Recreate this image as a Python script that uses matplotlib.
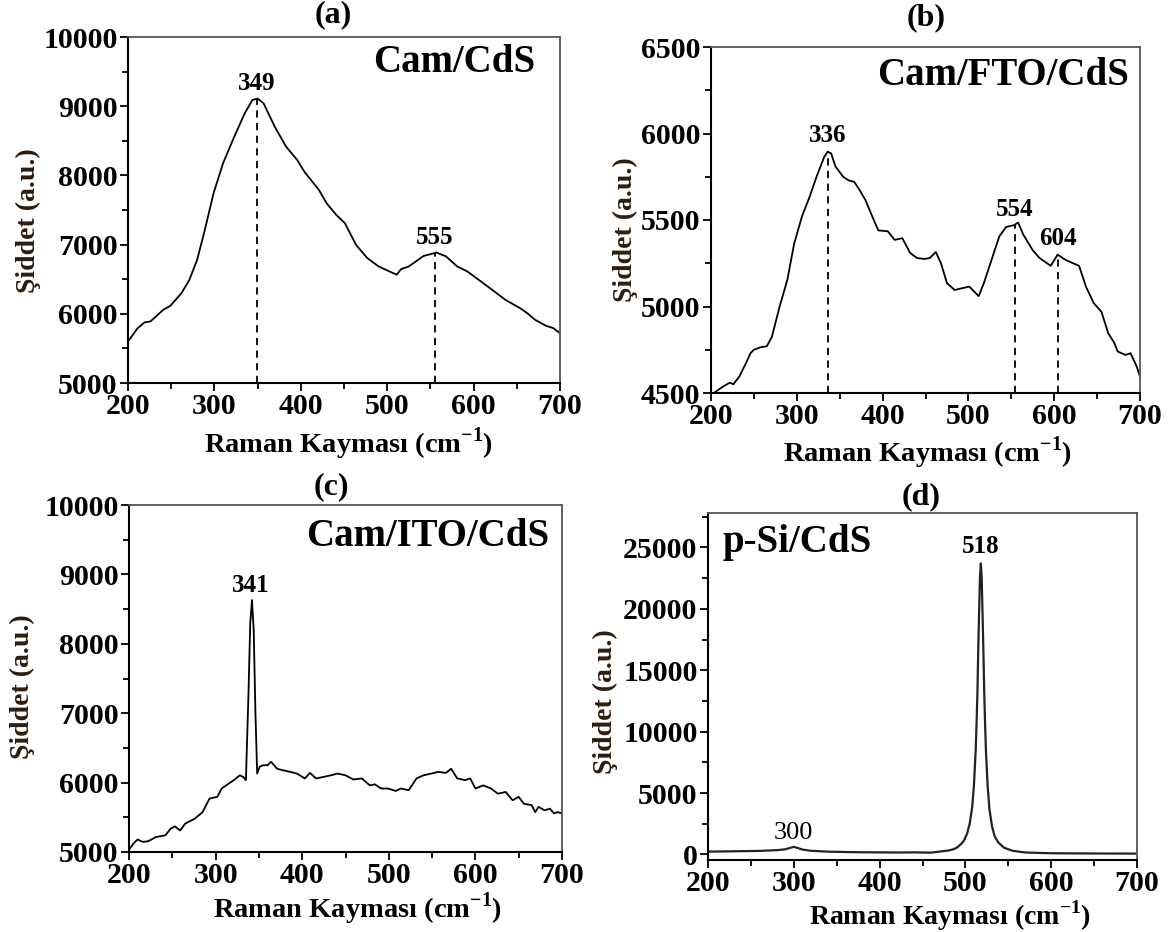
import numpy as np
import matplotlib.pyplot as plt
from matplotlib.ticker import MultipleLocator

plt.rcParams['font.family'] = ['Liberation Serif', 'DejaVu Serif']
plt.rcParams['font.weight'] = 'bold'
plt.rcParams['mathtext.fontset'] = 'custom'
plt.rcParams['mathtext.rm'] = 'Liberation Serif'
plt.rcParams['mathtext.bf'] = 'Liberation Serif:bold'

# ---------------- data ----------------
# (a) Cam/CdS
xa = [200, 211, 219, 226, 241, 249, 262, 271, 280, 288, 299, 310, 323, 335, 344, 350,
      357, 370, 383, 396, 404, 421, 430, 441, 451, 464, 477, 490, 503, 511, 516, 525,
      533, 542, 557, 568, 581, 593, 606, 619, 637, 654, 662, 671, 684, 692, 700]
ya = [5600, 5790, 5875, 5890, 6060, 6115, 6300, 6490, 6780, 7165, 7740, 8175, 8560, 8895, 9090, 9110,
      9040, 8700, 8415, 8220, 8055, 7790, 7595, 7430, 7310, 6995, 6805, 6685, 6610, 6565, 6645, 6685,
      6755, 6835, 6885, 6830, 6685, 6610, 6490, 6370, 6200, 6080, 6010, 5915, 5825, 5795, 5720]
peaks_a = [349, 555]

# (b) Cam/FTO/CdS
xb = [202, 209, 215, 222, 226, 233, 241, 246, 250, 258, 265, 271, 280, 289, 297, 306,
      315, 323, 332, 336, 340, 345, 354, 360, 367, 373, 380, 388, 395, 406, 414, 423,
      432, 440, 449, 455, 462, 468, 475, 484, 492, 501, 507, 512, 518, 527, 536, 544,
      553, 558, 564, 575, 583, 596, 604, 613, 622, 629, 637, 646, 655, 663, 670, 674,
      683, 689, 696, 700]
yb = [4495, 4520, 4540, 4560, 4550, 4595, 4675, 4730, 4750, 4765, 4770, 4825, 5000, 5155, 5365, 5520,
      5635, 5750, 5865, 5895, 5885, 5810, 5750, 5730, 5720, 5675, 5615, 5520, 5440, 5435, 5385, 5395,
      5310, 5280, 5275, 5280, 5315, 5250, 5135, 5095, 5105, 5115, 5085, 5060, 5135, 5270, 5405, 5460,
      5470, 5485, 5415, 5325, 5280, 5235, 5300, 5270, 5250, 5235, 5115, 5020, 4970, 4845, 4790, 4740,
      4720, 4730, 4655, 4595]
peaks_b = [336, 554, 604]

# (c) Cam/ITO/CdS
xc = [201, 205, 210, 216, 222, 231, 242, 248, 253, 259, 265, 276, 285, 293, 302, 307,
      315, 321, 328, 332, 335, 338, 340, 342, 344, 346, 348, 351, 355, 360, 364, 371, 377,
      386, 394, 403, 409, 416, 424, 433, 441, 450, 459, 469, 478, 484, 491, 499, 508,
      514, 523, 532, 540, 549, 557, 566, 572, 579, 588, 594, 600, 609, 618, 626, 635,
      643, 650, 656, 665, 669, 673, 680, 686, 691, 695, 700]
yc = [5050, 5120, 5180, 5145, 5155, 5215, 5240, 5335, 5370, 5310, 5410, 5480, 5575, 5770, 5795, 5915,
      5985, 6035, 6105, 6080, 6035, 7300, 8300, 8630, 8200, 7000, 6130, 6230, 6250, 6250, 6300, 6200, 6180,
      6155, 6130, 6060, 6140, 6060, 6080, 6105, 6130, 6105, 6045, 6060, 5960, 5975, 5915, 5915, 5880,
      5915, 5890, 6060, 6105, 6130, 6155, 6140, 6200, 6060, 6035, 6060, 5915, 5960, 5915, 5840, 5865,
      5745, 5795, 5695, 5675, 5575, 5650, 5600, 5625, 5555, 5575, 5555]
peaks_c = [341]

# (d) p-Si/CdS
xd = [200, 220, 240, 260, 280, 290, 295, 300, 305, 310, 320, 340, 360, 380, 400, 420,
      440, 460, 480, 485, 490, 495, 498, 502, 505, 508, 510, 512, 513, 514, 515, 516,
      517, 518, 519, 520, 521, 522, 523, 524, 526, 528, 531, 534, 538, 545, 555, 570,
      600, 650, 700]
yd = [230, 250, 270, 290, 350, 420, 520, 620, 520, 400, 300, 230, 200, 180, 170, 160,
      170, 150, 320, 400, 550, 850, 1100, 1700, 2500, 3900, 5700, 8500, 10700, 13100, 16800, 19800,
      22600, 23700, 22500, 19600, 16500, 13000, 10500, 8300, 5500, 3700, 2300, 1500, 1000, 550, 300, 160,
      100, 80, 70]
peaks_d = [518]
label_300 = 300

W, H = 1174, 932
fig = plt.figure(figsize=(W / 100, H / 100), dpi=100)


def make_ax(l, r, t, b):
    return fig.add_axes([l / W, 1 - b / H, (r - l) / W, (b - t) / H])


def style(ax, ylim, ymaj, ymin):
    ax.set_xlim(200, 700)
    ax.set_ylim(*ylim)
    ax.xaxis.set_major_locator(MultipleLocator(100))
    ax.xaxis.set_minor_locator(MultipleLocator(50))
    ax.yaxis.set_major_locator(MultipleLocator(ymaj))
    ax.yaxis.set_minor_locator(MultipleLocator(ymin))
    ax.tick_params(which='both', direction='out', top=False, right=False, width=1.3,
                   labelsize=21.5, colors='black')
    ax.tick_params(which='major', length=6, pad=1.5)
    ax.tick_params(which='minor', length=4)
    for s in ['left', 'bottom']:
        ax.spines[s].set_linewidth(1.5)
    for s in ['top', 'right']:
        ax.spines[s].set_linewidth(1.3)
        ax.spines[s].set_color('#555555')
    for lab in ax.get_xticklabels() + ax.get_yticklabels():
        lab.set_fontweight('bold')


def peak_line(ax, xs, ys, p):
    yp = np.interp(p, xs, ys)
    ax.plot([p, p], [ax.get_ylim()[0], yp], color='black', ls=(0, (4, 3)), lw=1.3)
    return yp


def peak_text(ax, p, yp, dy=3, weight='bold', size=18):
    ax.annotate(str(p), (p, yp), xytext=(0, dy), textcoords='offset points',
                ha='center', va='bottom', fontsize=size, fontweight=weight)


ylab_color = '#2e1d0c'
xlabel = r'Raman Kayması (cm$^{\mathbf{-1}}$)'

# ---- (a)
ax = make_ax(128, 560, 37, 383)
ax.plot(xa, ya, color='black', lw=1.3)
style(ax, (5000, 10000), 1000, 500)
for p in peaks_a:
    yp = peak_line(ax, xa, ya, p)
    peak_text(ax, p, yp)
ax.text(0.942, 0.925, 'Cam/CdS', transform=ax.transAxes, ha='right', va='center',
        fontsize=28, fontweight='bold')

# ---- (b)
ax = make_ax(711, 1140, 47, 393)
ax.plot(xb, yb, color='black', lw=1.3)
style(ax, (4500, 6500), 500, 250)
for p in peaks_b:
    yp = peak_line(ax, xb, yb, p)
    peak_text(ax, p, yp)
ax.text(0.974, 0.919, 'Cam/FTO/CdS', transform=ax.transAxes, ha='right', va='center',
        fontsize=28, fontweight='bold')

# ---- (c)
ax = make_ax(129, 562, 505, 852)
ax.plot(xc, yc, color='black', lw=1.3)
style(ax, (5000, 10000), 1000, 500)
for p in peaks_c:
    peak_text(ax, p, np.max(yc), dy=2)
ax.text(0.97, 0.908, 'Cam/ITO/CdS', transform=ax.transAxes, ha='right', va='center',
        fontsize=28, fontweight='bold')

# ---- (d)
ax = make_ax(708, 1137, 513, 860)
ax.plot(xd, yd, color='#222222', lw=1.6)
style(ax, (-450, 27800), 5000, 2500)
for p in peaks_d:
    peak_text(ax, p, np.max(yd), dy=4)
peak_text(ax, label_300, np.interp(label_300, xd, yd), dy=2, weight='normal', size=19)
ax.text(0.033, 0.914, 'p-Si/CdS', transform=ax.transAxes, ha='left', va='center',
        fontsize=28, fontweight='bold')

# titles and axis labels placed like the original
for txt, x, y in [('(a)', 333, 15), ('(b)', 926, 18), ('(c)', 331, 487), ('(d)', 921, 497)]:
    fig.text(x / W, 1 - y / H, txt, ha='center', va='center', fontsize=23, fontweight='bold')

for x, y, fs in [(349, 444, 20.5), (928, 453, 20.5), (358, 909, 20.5), (950, 916, 20)]:
    fig.text(x / W, 1 - y / H, xlabel, ha='center', va='center', fontsize=fs, fontweight='bold')

for x, y in [(28, 221), (625, 230), (22, 687), (605, 702)]:
    fig.text(x / W, 1 - y / H, 'Şiddet (a.u.)', ha='center', va='center', rotation=90,
             fontsize=20, fontweight='bold', color=ylab_color)

fig.savefig('out.png', dpi=100)
